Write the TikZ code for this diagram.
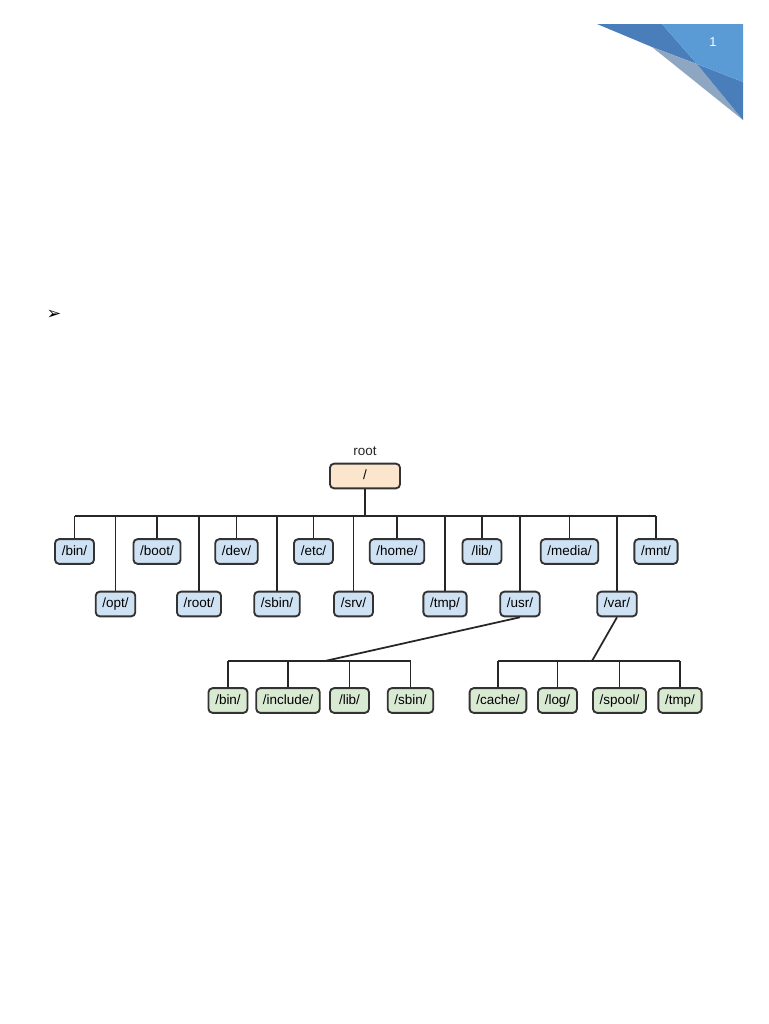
\documentclass[tikz,border=0pt]{standalone}
\usepackage{fontspec}
\setmainfont{Liberation Sans}
\newfontfamily\dingfont{DejaVu Sans}
\usetikzlibrary{positioning}
\definecolor{dirblue}{HTML}{CFE2F3}
\definecolor{dirgreen}{HTML}{D9EAD3}
\definecolor{rootpeach}{HTML}{FCE5CD}
\definecolor{edgegray}{HTML}{333333}
\definecolor{cornerlight}{HTML}{5B9BD5}
\definecolor{cornerdark}{HTML}{4A7EBB}
\definecolor{cornergray}{HTML}{8EA6C2}
\tikzset{
  dir/.style={
    draw=edgegray, fill=#1, rounded corners=1.2mm, line width=1.6pt,
    minimum height=7.4mm, minimum width=11.7mm, inner xsep=2mm,
    text height=2.9mm, text depth=0.8mm,
    font=\fontsize{11.5}{13}\selectfont, text=black
  },
  dir/.default=dirblue,
  link/.style={draw=black!85, line width=1.5pt},
  lbl/.style={font=\fontsize{11.5}{13}\selectfont, text=black!85},
}

\begin{document}
\begin{tikzpicture}[x=0.3mm, y=-0.3mm]
    \useasboundingbox (0,0) rectangle (768,1024);

    % page corner
    \fill[cornerdark] (597,24) -- (662,24) -- (697,64) -- (652,47) -- cycle;
    \fill[cornergray] (652,47) -- (697,64) -- (743,120) -- cycle;
    \fill[cornerdark] (697,64) -- (743,82) -- (743,120) -- cycle;
    \fill[cornerlight] (662,24) -- (743,24) -- (743,82) -- (697,64) -- cycle;
    \node[font=\fontsize{11}{13}\selectfont, text=white] (pagenum) at (713,42) {1};

    \node[font=\dingfont\fontsize{15}{17}\selectfont] (bullet) at (54,315) {➢};

    % root
    \node[lbl] (rootlbl) at (365,451) {root};
    \node[dir=rootpeach, minimum width=21mm] (root) at (365,476) {/};
    \coordinate (bus) at (365,516);

    % first level, upper row
    \node[dir] (bin) at (74.5,551.5) {/bin/};
    \node[dir] (boot) at (157,551.5) {/boot/};
    \node[dir] (dev) at (236.5,551.5) {/dev/};
    \node[dir] (etc) at (313.5,551.5) {/etc/};
    \node[dir] (home) at (397,551.5) {/home/};
    \node[dir] (lib) at (482,551.5) {/lib/};
    \node[dir] (media) at (569.5,551.5) {/media/};
    \node[dir] (mnt) at (656,551.5) {/mnt/};

    % first level, lower row
    \node[dir] (opt) at (115.5,604) {/opt/};
    \node[dir] (rootdir) at (199,604) {/root/};
    \node[dir] (sbin) at (277,604) {/sbin/};
    \node[dir] (srv) at (353.5,604) {/srv/};
    \node[dir] (tmp) at (445,604) {/tmp/};
    \node[dir] (usr) at (520,604) {/usr/};
    \node[dir] (var) at (617,604) {/var/};

    \draw[link] (root) -- (bus);
    \draw[link] (bin.north |- bus) -- (mnt.north |- bus);
    \foreach \d in {bin,opt,boot,rootdir,dev,sbin,etc,srv,home,tmp,lib,usr,media,var,mnt}
      \draw[link] (\d.north) -- (\d.north |- bus);

    % /usr/ children
    \coordinate (usrbus) at (325,661);
    \node[dir=dirgreen] (ubin) at (228,700.5) {/bin/};
    \node[dir=dirgreen] (uinclude) at (288,700.5) {/include/};
    \node[dir=dirgreen] (ulib) at (349.5,700.5) {/lib/};
    \node[dir=dirgreen] (usbin) at (410.5,700.5) {/sbin/};

    \draw[link] (usr.south) -- (usrbus);
    \draw[link] (ubin.north |- usrbus) -- (usbin.north |- usrbus);
    \foreach \d in {ubin,uinclude,ulib,usbin}
      \draw[link] (\d.north) -- (\d.north |- usrbus);

    % /var/ children
    \coordinate (varbus) at (592,661);
    \node[dir=dirgreen] (vcache) at (498,700.5) {/cache/};
    \node[dir=dirgreen] (vlog) at (557.5,700.5) {/log/};
    \node[dir=dirgreen] (vspool) at (619.5,700.5) {/spool/};
    \node[dir=dirgreen] (vtmp) at (680,700.5) {/tmp/};

    \draw[link] (var.south) -- (varbus);
    \draw[link] (vcache.north |- varbus) -- (vtmp.north |- varbus);
    \foreach \d in {vcache,vlog,vspool,vtmp}
      \draw[link] (\d.north) -- (\d.north |- varbus);
\end{tikzpicture}
\end{document}
